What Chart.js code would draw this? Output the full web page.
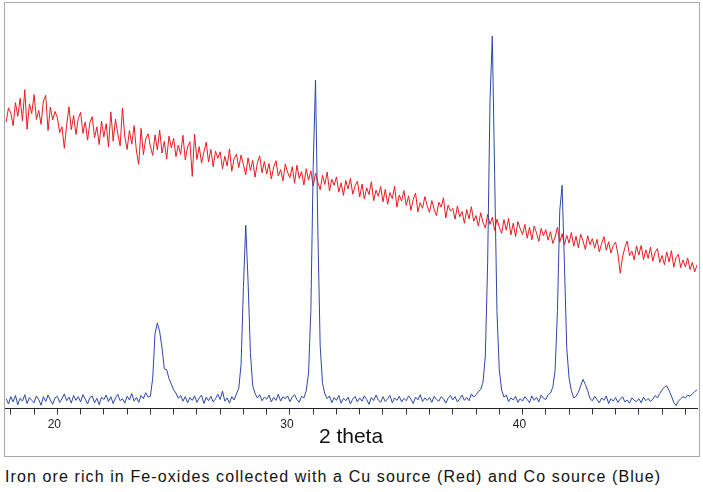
<!DOCTYPE html>
<html>
<head>
<meta charset="utf-8">
<script src="https://cdn.jsdelivr.net/npm/chart.js@4/dist/chart.umd.min.js"></script>
<style>
  body { margin: 0; background: #fff; }
  #wrap { position: absolute; left: 0; top: 0; width: 703px; height: 460px; }
  #caption {
    position: absolute; left: 5px; top: 468px;
    font-family: "Liberation Sans", Arial, sans-serif; font-size: 16px;
    letter-spacing: 1.1px;
    color: #111; white-space: nowrap; line-height: 18px;
  }
</style>
</head>
<body>
<div id="wrap"><canvas id="xrdChart" width="703" height="460"></canvas></div>
<div id="caption">Iron ore rich in Fe-oxides collected with a Cu source (Red) and Co source (Blue)</div>
<script>
// 2 theta grid: first point and step (degrees)
const thetaStart = 17.8;
const thetaStep = 0.1;
const majorTicks = [20, 30, 40];

// Cu source (red) intensity, one row per degree
const cuSource = [
    71.0, 74.5,
    73.2, 70.1, 75.8, 72.4, 76.9, 71.3, 79.0, 69.2, 75.5, 73.1,
    77.8, 71.6, 73.9, 70.4, 76.2, 77.6, 68.9, 74.7, 71.5, 73.6,
    72.1, 68.4, 69.8, 64.5, 70.2, 74.8, 69.1, 72.6, 67.9, 71.8,
    73.4, 68.2, 71.0, 66.5, 70.9, 72.3, 67.1, 69.8, 65.4, 71.2,
    67.3, 70.6, 64.8, 73.5, 66.2, 71.7, 68.0, 65.1, 74.5, 67.4,
    64.2, 68.9, 65.5, 70.1, 63.8, 60.5, 69.4, 62.9, 66.8, 68.1,
    65.0, 62.7, 67.8, 64.1, 69.0, 63.3, 66.2, 61.8, 67.5, 64.6,
    66.9, 62.4, 65.3, 63.0, 67.7, 61.6, 64.8, 66.1, 57.5, 68.0,
    61.7, 64.9, 60.8, 63.5, 66.0, 61.1, 64.2, 59.9, 63.8, 62.0,
    63.6, 59.4, 62.5, 60.1, 64.3, 58.8, 61.9, 63.0, 59.7, 62.8,
    60.4, 57.9, 62.1, 59.0, 61.5, 57.3, 60.9, 62.6, 58.4, 61.2,
    58.1, 60.7, 56.9, 59.8, 61.4, 57.6, 59.2, 56.4, 60.6, 58.5,
    57.2, 59.9, 55.8, 60.3, 57.0, 58.7, 55.4, 59.4, 56.6, 58.9,
    55.1, 58.3, 56.0, 54.2, 57.8, 55.5, 58.6, 53.9, 56.8, 55.3,
    57.4, 53.6, 55.9, 52.8, 56.5, 54.4, 57.0, 53.1, 55.2, 56.3,
    52.4, 55.6, 51.9, 54.7, 53.0, 56.2, 51.5, 54.1, 52.6, 55.0,
    51.2, 54.3, 50.6, 53.5, 52.0, 55.1, 49.9, 52.9, 51.4, 54.0,
    50.3, 52.7, 49.1, 51.8, 53.4, 48.7, 51.0, 49.6, 52.5, 50.2,
    48.6, 51.5, 49.4, 47.8, 51.1, 49.9, 52.2, 47.2, 50.4, 48.9,
    49.6, 46.9, 50.2, 47.5, 48.8, 45.9, 49.3, 47.0, 50.0, 46.4,
    47.8, 45.2, 48.5, 46.1, 44.7, 48.1, 45.6, 47.4, 44.1, 46.9,
    45.0, 43.4, 46.8, 44.2, 47.1, 43.0, 45.9, 42.6, 46.3, 44.5,
    43.1, 45.6, 42.2, 44.9, 41.8, 45.2, 43.5, 41.4, 44.6, 42.8,
    44.3, 41.7, 43.8, 40.9, 42.5, 44.9, 41.2, 43.3, 40.5, 42.9,
    41.0, 43.6, 40.2, 42.7, 39.8, 43.2, 41.5, 39.4, 42.8, 40.6,
    42.1, 39.7, 41.9, 38.8, 40.9, 42.6, 39.2, 41.3, 38.5, 40.4,
    41.2, 38.3, 33.5, 37.6, 39.9, 41.5, 37.9, 39.0, 36.8, 40.3,
    38.0, 40.4, 36.9, 39.3, 37.2, 40.0, 36.5, 38.7, 39.6, 36.2,
    37.9, 35.6, 38.8, 36.3, 39.1, 35.0, 37.4, 38.2, 34.9, 36.8,
    35.1, 37.3, 34.4, 36.2, 33.8, 35.6
];

// Co source (blue) intensity, one row per degree
const coSource = [
    2.4, 1.1,
    2.9, 1.6, 3.2, 0.9, 2.5, 1.8, 3.4, 1.2, 2.7, 2.0,
    1.4, 3.1, 2.2, 0.8, 2.9, 1.7, 3.3, 2.1, 1.0, 2.6,
    3.0, 1.5, 2.4, 3.6, 1.9, 2.8, 1.3, 3.2, 2.0, 2.9,
    1.6, 3.4, 2.3, 1.1, 2.7, 3.1, 1.4, 2.5, 0.9, 2.8,
    2.2, 3.3, 1.7, 2.9, 1.2, 2.6, 3.5, 1.9, 2.4, 1.3,
    3.0, 2.1, 3.7, 1.8, 2.7, 1.5, 3.2, 2.4, 3.9, 2.8,
    3.0, 7.5, 18.5, 21.2, 19.0, 15.0, 9.8, 9.6, 7.4, 6.0,
    4.6, 3.8, 2.5, 3.2, 1.8, 2.9, 1.4, 2.7, 2.0, 3.1,
    1.5, 2.6, 3.3, 1.2, 2.8, 1.9, 3.0, 1.6, 2.4, 3.5,
    2.2, 4.3, 1.8, 2.6, 1.3, 2.9, 2.1, 3.6, 5.0, 11.0,
    30.0, 45.4, 31.5, 13.8, 5.6, 3.7, 2.6, 3.4, 1.9, 2.8,
    2.3, 3.3, 1.6, 2.7, 2.0, 3.5, 1.8, 2.9, 2.4, 3.1,
    1.7, 2.8, 3.4, 2.2, 1.5, 3.0, 2.6, 4.4, 8.8, 24.5,
    60.0, 81.4, 44.0, 15.5, 6.2, 3.6, 2.4, 3.1, 1.4, 2.7,
    2.0, 3.2, 1.3, 2.5, 1.9, 2.8, 1.1, 2.3, 3.0, 1.6,
    2.6, 1.8, 3.1, 2.2, 1.0, 2.7, 1.9, 3.3, 2.1, 1.5,
    2.9, 1.7, 2.4, 3.2, 1.4, 2.6, 2.0, 3.0, 1.6, 2.5,
    1.9, 3.1, 2.3, 1.2, 2.8, 2.1, 3.4, 1.7, 2.6, 2.0,
    2.7, 1.5, 3.0, 2.2, 1.8, 2.9, 2.4, 1.3, 2.5, 3.2,
    2.1, 2.9, 1.6, 2.4, 3.3, 2.0, 2.7, 1.9, 3.6, 2.8,
    3.4, 4.1, 4.7, 6.5, 13.0, 36.0, 76.0, 92.3, 58.0, 24.0,
    9.5, 4.6, 2.8, 3.3, 1.7, 2.6, 2.1, 3.0, 1.5, 2.4,
    1.8, 2.9, 2.2, 1.4, 3.1, 2.0, 2.7, 1.6, 3.3, 2.5,
    2.2, 3.4, 3.8, 5.2, 9.5, 24.0, 49.0, 55.3, 36.0, 15.0,
    7.5, 4.4, 2.6, 3.0, 4.0, 5.6, 7.2, 5.9, 4.4, 2.4,
    1.9, 3.0, 2.2, 1.4, 2.6, 2.0, 3.1, 1.2, 2.4, 1.8,
    2.7, 1.5, 2.3, 2.9, 1.6, 2.1, 1.3, 2.6, 2.0, 1.7,
    2.4, 1.4, 2.8, 1.9, 2.5, 1.7, 2.3, 3.2, 2.6, 3.7,
    4.6, 5.3, 5.6, 4.4, 3.1, 1.5, 0.7, 1.8, 2.4, 2.9,
    2.6, 3.3, 3.0, 3.6, 4.2, 4.6
];

function toPoints(values) {
    return values.map((v, i) => ({ x: +(thetaStart + i * thetaStep).toFixed(2), y: v }));
}

// grey frame round the whole figure
const framePlugin = {
    id: 'frame',
    afterDraw(chart) {
        const ctx = chart.ctx;
        ctx.save();
        ctx.strokeStyle = '#a8a8a8';
        ctx.lineWidth = 1;
        ctx.strokeRect(4.5, 2.5, 695, 454);
        ctx.restore();
    }
};

const ctx = document.getElementById('xrdChart').getContext('2d');
new Chart(ctx, {
    type: 'line',
    data: {
        datasets: [
            {
                label: 'Co source',
                data: toPoints(coSource),
                borderColor: '#2d47a6',
                borderWidth: 1,
                pointRadius: 0,
                tension: 0
            },
            {
                label: 'Cu source',
                data: toPoints(cuSource),
                borderColor: '#ea1b22',
                borderWidth: 1,
                pointRadius: 0,
                tension: 0
            }
        ]
    },
    options: {
        responsive: false,
        animation: false,
        layout: { padding: { left: 5, right: 6, top: 5, bottom: 10 } },
        plugins: {
            legend: { display: false },
            tooltip: { enabled: false }
        },
        scales: {
            x: {
                type: 'linear',
                min: 17.75,
                max: 47.5,
                border: { display: true, color: '#222', width: 1 },
                grid: { drawOnChartArea: false, drawTicks: true, tickLength: 6, color: '#333' },
                ticks: {
                    stepSize: 1,
                    autoSkip: false,
                    includeBounds: false,
                    maxRotation: 0,
                    labelOffset: -3,
                    color: '#222',
                    font: { family: 'Liberation Sans', size: 12 },
                    callback: v => majorTicks.includes(v) ? String(v) : ''
                },
                title: {
                    display: true,
                    text: '2 theta',
                    color: '#111',
                    font: { family: 'Liberation Sans', size: 21 },
                    padding: { top: -10, bottom: 0 }
                }
            },
            y: {
                display: false,
                min: 0,
                max: 100
            }
        }
    },
    plugins: [framePlugin]
});
</script>
</body>
</html>
